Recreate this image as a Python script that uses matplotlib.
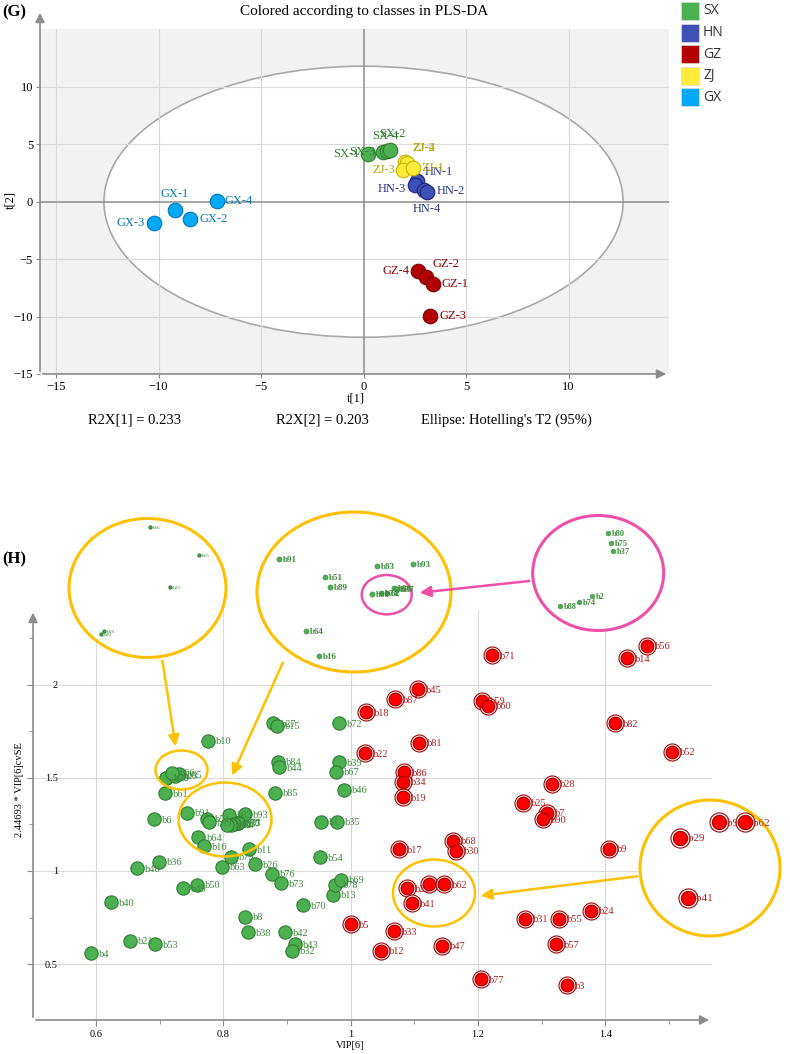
import numpy as np
import matplotlib.pyplot as plt
from matplotlib.patches import Ellipse, Rectangle, FancyArrowPatch

plt.rcParams['font.family'] = ['Liberation Serif', 'DejaVu Serif']

W, H = 790, 1054


def fbox(l, t, r, b):
    # pixel box (from top-left) -> figure fraction rect
    return [l / W, 1 - b / H, (r - l) / W, (b - t) / H]


def fpt(x, y):
    return (x / W, 1 - y / H)


# ---------------- (G) PLS-DA scores ----------------
classes = ['SX', 'HN', 'GZ', 'ZJ', 'GX']
class_fill = ['#4CAF50', '#3F51B5', '#B20000', '#FFEB3B', '#03A9F4']
class_edge = ['#2E7D32', '#1A237E', '#7A0000', '#C9B300', '#0277BD']
class_text = ['#2E7D32', '#283593', '#8B0000', '#B5A000', '#0277BD']

sample = ['SX-1', 'SX-3', 'SX-4', 'SX-2',
          'HN-1', 'HN-3', 'HN-4', 'HN-2',
          'ZJ-2', 'ZJ-4', 'ZJ-3', 'ZJ-1',
          'GZ-4', 'GZ-2', 'GZ-1', 'GZ-3',
          'GX-1', 'GX-2', 'GX-3', 'GX-4']
t1 = [0.23, 0.97, 1.15, 1.29, 2.60, 2.51, 2.95, 3.08, 2.02, 2.12, 1.94, 2.43,
      2.68, 3.05, 3.41, 3.24, -9.21, -8.46, -10.20, -7.16]
t2 = [4.15, 4.33, 4.40, 4.52, 1.83, 1.48, 1.04, 0.81, 3.50, 3.39, 2.78, 2.93,
      -6.06, -6.55, -7.16, -9.97, -0.76, -1.48, -1.86, 0.09]

# label offsets in pixels and alignment
lab_off = {'SX-1': (-9, 0, 'right'), 'SX-3': (-8, 0, 'right'),
           'SX-4': (-2, 15, 'center'), 'SX-2': (2, 16, 'center'),
           'HN-1': (8, 9, 'left'), 'HN-3': (-9, -4, 'right'),
           'HN-4': (3, -19, 'center'), 'HN-2': (10, 1, 'left'),
           'ZJ-2': (7, 14, 'left'), 'ZJ-4': (5, 15, 'left'),
           'ZJ-3': (-8, 0, 'right'), 'ZJ-1': (8, 0, 'left'),
           'GZ-4': (-9, 0, 'right'), 'GZ-2': (6, 13, 'left'),
           'GZ-1': (8, 0, 'left'), 'GZ-3': (10, 0, 'left'),
           'GX-1': (0, 16, 'center'), 'GX-2': (9, 0, 'left'),
           'GX-3': (-10, 0, 'right'), 'GX-4': (8, 0, 'left')}

ellipse_a, ellipse_b = 12.66, 11.8
r2x = [0.233, 0.203]

# ---------------- (H) VIP plot ----------------
green_names = ['b10', 'b27', 'b15', 'b58', 'b20', 'b23', 'b65', 'b66', 'b61', 'b84',
               'b44', 'b85', 'b6', 'b91', 'b51', 'b89', 'b83', 'b93', 'b80', 'b75',
               'b37', 'b2', 'b74', 'b88', 'b64', 'b16', 'b11', 'b79', 'b63', 'b26',
               'b76', 'b73', 'b36', 'b48', 'b49', 'b50', 'b40', 'b8', 'b38', 'b42',
               'b43', 'b32', 'b70', 'b13', 'b78', 'b69', 'b21', 'b53', 'b4', 'b72',
               'b39', 'b67', 'b46', 'b1', 'b35', 'b54']
green_vip = [0.7755, 0.8786, 0.884, 0.7105, 0.7100, 0.7240, 0.7300, 0.7200, 0.708, 0.886,
             0.8875, 0.881, 0.691, 0.7425, 0.774, 0.7775, 0.8095, 0.834, 0.8214, 0.8224,
             0.8230, 0.8163, 0.8121, 0.8060, 0.761, 0.770, 0.8404, 0.8116, 0.7975, 0.850,
             0.8765, 0.890, 0.6985, 0.664, 0.736, 0.759, 0.6236, 0.834, 0.839, 0.897,
             0.9126, 0.9075, 0.9257, 0.9728, 0.9755, 0.985, 0.6534, 0.692, 0.5926, 0.9823,
             0.9823, 0.977, 0.990, 0.9535, 0.978, 0.952]
green_cvse = [1.700, 1.794, 1.780, 1.501, 1.5002, 1.512, 1.520, 1.527, 1.418, 1.588,
              1.558, 1.421, 1.278, 1.313, 1.280, 1.262, 1.301, 1.305, 1.2600, 1.2585,
              1.2574, 1.2505, 1.2497, 1.2490, 1.181, 1.134, 1.117, 1.077, 1.023, 1.036,
              0.9855, 0.934, 1.050, 1.0145, 0.907, 0.925, 0.833, 0.754, 0.672, 0.672,
              0.6075, 0.570, 0.817, 0.871, 0.925, 0.952, 0.6237, 0.6075, 0.559, 1.794,
              1.584, 1.534, 1.4355, 1.265, 1.265, 1.074]

red_names = ['b71', 'b56', 'b14', 'b45', 'b87', 'b18', 'b59', 'b60', 'b81', 'b82',
             'b52', 'b22', 'b86', 'b34', 'b19', 'b28', 'b25', 'b7', 'b90', 'b17',
             'b68', 'b30', 'b9', 'b29', 'b92', 'b62', 'b41', 'b24', 'b31', 'b55',
             'b57', 'b33', 'b5', 'b12', 'b47', 'b77', 'b3']
red_vip = [1.2217, 1.465, 1.4338, 1.1064, 1.0698, 1.0242, 1.206, 1.2164, 1.1078, 1.4154,
           1.5054, 1.0231, 1.0839, 1.0828, 1.0828, 1.316, 1.2713, 1.308, 1.3017, 1.076,
           1.1614, 1.1656, 1.406, 1.089, 1.1237, 1.1467, 1.096, 1.378, 1.274, 1.328,
           1.3227, 1.0682, 1.0006, 1.0473, 1.1431, 1.2044, 1.3405]
red_cvse = [2.161, 2.210, 2.1435, 1.977, 1.923, 1.853, 1.916, 1.887, 1.690, 1.794,
            1.641, 1.633, 1.5306, 1.480, 1.396, 1.4677, 1.367, 1.313, 1.278, 1.117,
            1.163, 1.1075, 1.120, 0.907, 0.9285, 0.9285, 0.826, 0.785, 0.742, 0.742,
            0.6075, 0.677, 0.713, 0.570, 0.597, 0.418, 0.387]

# zoomed groups
zoom1 = ['b58', 'b20', 'b23', 'b65', 'b66']
zoom2 = ['b91', 'b51', 'b89', 'b83', 'b93', 'b80', 'b75', 'b37', 'b2', 'b74', 'b88', 'b64', 'b16']
zoom3 = ['b80', 'b75', 'b37', 'b2', 'b74', 'b88']
zoom4 = ['b29', 'b92', 'b62', 'b41']

ORANGE = '#FFC000'
PINK = '#EE4FA8'
GFILL, GEDGE, GTEXT = '#4CAF50', '#2E7D32', '#3B8B3B'
RFILL, REDGE, RTEXT = '#FF0000', '#A00000', '#B02020'
AXCOL = '#8A8A8A'

fig = plt.figure(figsize=(W / 100, H / 100), dpi=100)

# ================= (G) =================
ax1 = fig.add_axes(fbox(40, 29, 669, 374))
ax1.set_facecolor('#F2F2F2')
ax1.set_xlim(-15.78, 14.9)
ax1.set_ylim(-14.96, 15.04)
for s in ax1.spines.values():
    s.set_visible(False)
ax1.add_patch(Ellipse((0, 0), 2 * ellipse_a, 2 * ellipse_b, facecolor='white',
                      edgecolor='#A8A8A8', lw=1.2, zorder=0.5))
ticks = [-15, -10, -5, 0, 5, 10]
for v in ticks:
    if v != 0:
        ax1.axvline(v, color='#D9D9D9', lw=0.8, zorder=1)
        ax1.axhline(v, color='#D9D9D9', lw=0.8, zorder=1)
ax1.axvline(0, color='#8C8C8C', lw=1.1, zorder=1.2)
ax1.axhline(0, color='#8C8C8C', lw=1.1, zorder=1.2)
ax1.set_xticks(ticks)
ax1.set_yticks(ticks)
ax1.tick_params(length=3, color=AXCOL, labelsize=9, pad=2)
ax1.annotate('', xy=(1.0, 0), xytext=(0, 0), xycoords='axes fraction',
             arrowprops=dict(arrowstyle='-|>', color=AXCOL, lw=1.2, mutation_scale=14),
             annotation_clip=False)
ax1.annotate('', xy=(0, 1.055), xytext=(0, 0), xycoords='axes fraction',
             arrowprops=dict(arrowstyle='-|>', color=AXCOL, lw=1.2, mutation_scale=14),
             annotation_clip=False)

t1a = np.array(t1)
t2a = np.array(t2)
for ci, c in enumerate(classes):
    idx = [i for i, n in enumerate(sample) if n.startswith(c)]
    ax1.scatter(t1a[idx], t2a[idx], s=110, color=class_fill[ci],
                edgecolors=class_edge[ci], linewidths=0.8, zorder=3)
    for i in idx:
        dx, dy, ha = lab_off[sample[i]]
        ax1.annotate(sample[i], (t1a[i], t2a[i]), xytext=(dx, dy),
                     textcoords='offset pixels', ha=ha, va='center',
                     fontsize=9, color=class_text[ci], zorder=4)

fig.text(*fpt(2, 12), '(G)', fontsize=12, fontweight='bold', va='center', ha='left')
fig.text(*fpt(364, 12), 'Colored according to classes in PLS-DA', fontsize=11,
         va='center', ha='center')
fig.text(*fpt(356, 398), 't[1]', fontsize=9, va='center', ha='center')
fig.text(*fpt(10, 200), 't[2]', fontsize=9, va='center', ha='center', rotation=90)
fig.text(*fpt(135, 420), 'R2X[1] = %.3f' % r2x[0], fontsize=10.5, va='center', ha='center')
fig.text(*fpt(322, 420), 'R2X[2] = %.3f' % r2x[1], fontsize=10.5, va='center', ha='center')
fig.text(*fpt(506, 420), "Ellipse: Hotelling's T2 (95%)", fontsize=10.5,
         va='center', ha='center')

# legend
for i, c in enumerate(classes):
    yc = 11 + i * 21.6
    fig.patches.append(Rectangle(fpt(681, yc + 9), 18 / W, 18 / H,
                                 transform=fig.transFigure, facecolor=class_fill[i],
                                 edgecolor='#DDDDDD', lw=0.5))
    fig.text(*fpt(703, yc), c, fontsize=10, va='center', ha='left',
             family=['Open Sans', 'DejaVu Sans'], color='#333333')

# ================= (H) =================
ax2 = fig.add_axes(fbox(33, 610, 712, 1020))
ax2.set_xlim(0.501, 1.5678)
ax2.set_ylim(0.199, 2.403)
for s in ax2.spines.values():
    s.set_visible(False)
ax2.set_xticks([0.6, 0.8, 1.0, 1.2, 1.4])
ax2.set_xticklabels(['0.6', '0.8', '1', '1.2', '1.4'])
ax2.set_yticks([0.5, 1.0, 1.5, 2.0])
ax2.set_yticklabels(['0.5', '1', '1.5', '2'])
ax2.set_xticks([0.7, 0.9, 1.1, 1.3, 1.5], minor=True)
ax2.set_yticks([0.75, 1.25, 1.75, 2.25], minor=True)
ax2.grid(True, which='major', color='#DADADA', lw=0.8)
ax2.set_axisbelow(True)
ax2.tick_params(which='both', color=AXCOL, labelsize=7.5)
ax2.tick_params(which='major', length=4)
ax2.tick_params(which='minor', length=3)
ax2.tick_params(axis='y', pad=-22)
ax2.annotate('', xy=(1.0, 0), xytext=(0, 0), xycoords='axes fraction',
             arrowprops=dict(arrowstyle='-|>', color=AXCOL, lw=1.2, mutation_scale=14),
             annotation_clip=False)
ax2.annotate('', xy=(0, 1.0), xytext=(0, 0), xycoords='axes fraction',
             arrowprops=dict(arrowstyle='-|>', color=AXCOL, lw=1.2, mutation_scale=14),
             annotation_clip=False)

gx, gy = np.array(green_vip), np.array(green_cvse)
rx, ry = np.array(red_vip), np.array(red_cvse)


def draw_green(ax, names, s, fs, weight='normal', off=(8, -1), lw=0.8, tcol=GTEXT):
    idx = [green_names.index(n) for n in names]
    ax.scatter(gx[idx], gy[idx], s=s, color=GFILL, edgecolors=GEDGE,
               linewidths=lw, zorder=3, clip_on=False)
    for i in idx:
        ax.annotate(green_names[i], (gx[i], gy[i]), xytext=off, textcoords='offset pixels',
                    fontsize=fs, color=tcol, va='center', ha='left',
                    fontweight=weight, zorder=3.5, annotation_clip=False)


def draw_red(ax, names, s_out, s_in, fs, off=(8, -1)):
    idx = [red_names.index(n) for n in names]
    ax.scatter(rx[idx], ry[idx], s=s_out, facecolors='white', edgecolors=REDGE,
               linewidths=0.8, zorder=3, clip_on=False)
    ax.scatter(rx[idx], ry[idx], s=s_in, color=RFILL, edgecolors=REDGE,
               linewidths=0.8, zorder=4, clip_on=False)
    for i in idx:
        ax.annotate(red_names[i], (rx[i], ry[i]), xytext=off, textcoords='offset pixels',
                    fontsize=fs, color=RTEXT, va='center', ha='left',
                    zorder=3.5, annotation_clip=False)


draw_green(ax2, green_names, 92, 7.5)
draw_red(ax2, red_names, 150, 85, 7.5)

fig.text(*fpt(2, 559), '(H)', fontsize=12, fontweight='bold', va='center', ha='left')
fig.text(*fpt(350, 1046), 'VIP[6]', fontsize=7.5, va='center', ha='center')
fig.text(*fpt(20, 790), '2.44693 * VIP[6]cvSE', fontsize=7.5, va='center',
         ha='center', rotation=90)


def fig_ellipse(cx, cy, w, h, color, lw):
    fig.patches.append(Ellipse(fpt(cx, cy), w / W, h / H, transform=fig.transFigure,
                               fill=False, edgecolor=color, lw=lw, zorder=2))


def fig_arrow(p0, p1, color):
    fig.add_artist(FancyArrowPatch(fpt(*p0), fpt(*p1), transform=fig.transFigure,
                                   arrowstyle='-|>', mutation_scale=16, lw=1.8,
                                   color=color, zorder=6))


def inset(box, xlim, ylim, edge, lw):
    ax = fig.add_axes(fbox(*box))
    ax.set_xlim(xlim)
    ax.set_ylim(ylim)
    ax.axis('off')
    ax.add_patch(Ellipse((0.5, 0.5), 1, 1, transform=ax.transAxes, facecolor='white',
                         edgecolor=edge, lw=lw, clip_on=False, zorder=0))
    return ax


# marks on the main plot
fig_ellipse(181.5, 770, 52, 39, ORANGE, 1.8)
fig_ellipse(225, 819.5, 93, 74, ORANGE, 1.8)
fig_ellipse(434, 893, 82, 67, ORANGE, 1.8)

in1 = inset((69, 518.5, 226, 657.5), (0.7034, 0.7355), (1.4943, 1.5291), ORANGE, 2.2)
draw_green(in1, zoom1, 5, 3.8, off=(3, -1))

in2 = inset((257, 512, 451, 672), (0.7272, 0.8603), (1.1043, 1.4006), ORANGE, 2.2)
draw_green(in2, zoom2, 14, 6.5, weight='bold', off=(4, -1), lw=0.3)
in2.add_patch(Ellipse((0.8162, 1.2475), 0.0343, 0.0728, fill=False,
                      edgecolor=PINK, lw=1.8, zorder=2))

in3 = inset((532.7, 515.5, 663.7, 630.5), (0.79704, 0.83955), (1.24535, 1.26268), PINK, 2.2)
draw_green(in3, zoom3, 12, 6, weight='bold', off=(4, -1), lw=0.3)

in4 = inset((640, 800, 780, 936), (1.0535, 1.1778), (0.7747, 0.9582), ORANGE, 2.2)
draw_red(in4, zoom4, 190, 105, 8)

fig_arrow((162, 658), (176, 749), ORANGE)
fig_arrow((284, 660), (231, 778), ORANGE)
fig_arrow((640, 876), (478, 896), ORANGE)
fig_arrow((532, 580.7), (417, 593), PINK)

fig.savefig('out.png', dpi=100)
